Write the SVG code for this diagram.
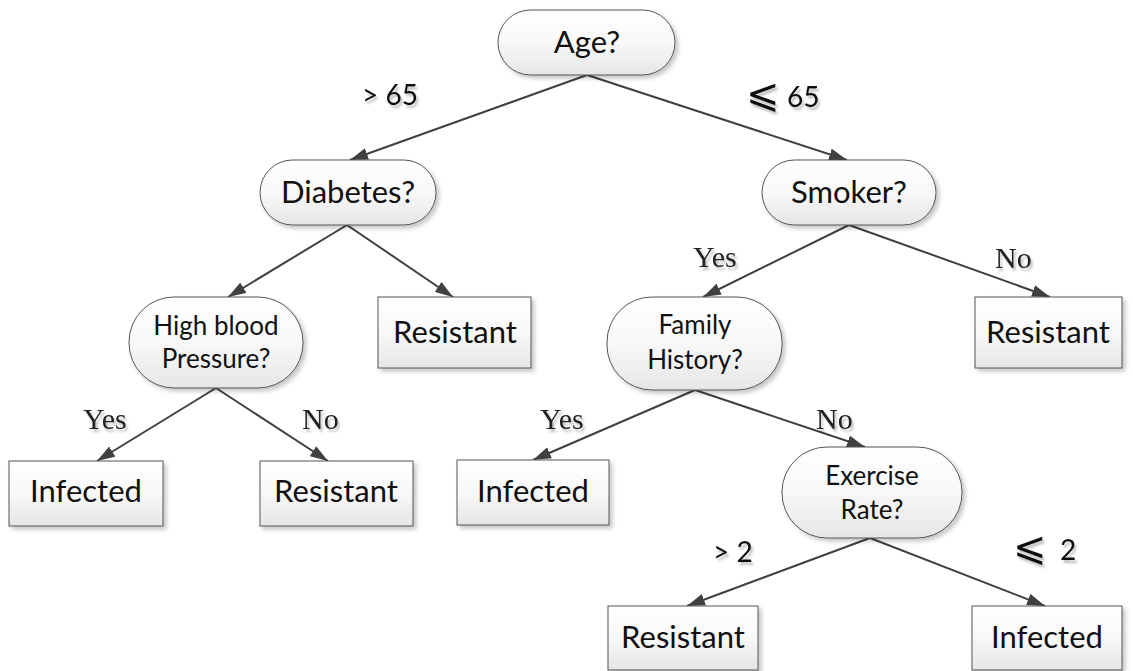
<svg xmlns="http://www.w3.org/2000/svg" width="1133" height="671" viewBox="0 0 1133 671">
  <defs>
    <linearGradient id="nodeFill" x1="0" y1="0" x2="0" y2="1">
      <stop offset="0" stop-color="#ffffff"/>
      <stop offset="0.5" stop-color="#f8f8f8"/>
      <stop offset="1" stop-color="#e6e6e6"/>
    </linearGradient>
    <filter id="nodeShadow" x="-10%" y="-10%" width="125%" height="130%">
      <feDropShadow dx="3" dy="3" stdDeviation="2" flood-color="#000" flood-opacity="0.22"/>
    </filter>
    <filter id="textShadow" x="-10%" y="-20%" width="130%" height="150%">
      <feDropShadow dx="2" dy="3" stdDeviation="0.8" flood-color="#000" flood-opacity="0.25"/>
    </filter>
    <marker id="arrow" viewBox="0 0 18 12" refX="18" refY="6" markerWidth="18" markerHeight="12" markerUnits="userSpaceOnUse" orient="auto">
      <path d="M0,0 L18,6 L0,12 Z" fill="#404040"/>
    </marker>
    <style>
      .node { fill: url(#nodeFill); stroke: #555; stroke-width: 1; filter: url(#nodeShadow); }
      .label { font-family: Lato, "Open Sans", sans-serif; fill: #111; text-anchor: middle; }
      .big { font-size: 31px; }
      .small { font-size: 26px; }
      .edge { stroke: #404040; stroke-width: 2; fill: none; marker-end: url(#arrow); }
      .cond { font-family: Lato, "Open Sans", sans-serif; font-size: 28px; fill: #111; filter: url(#textShadow); }
      .rel { font-family: "DejaVu Sans", sans-serif; font-size: 40px; font-weight: 200; }
      .yn { font-family: "Liberation Serif", serif; font-size: 30px; fill: #222; filter: url(#textShadow); }
    </style>
  </defs>

  <rect width="1133" height="671" fill="#ffffff"/>

  <!-- connectors -->
  <g id="connectors">
    <line class="edge" x1="587" y1="75" x2="350" y2="160"/>
    <line class="edge" x1="587" y1="75" x2="847" y2="160"/>
    <line class="edge" x1="347" y1="225" x2="228" y2="297"/>
    <line class="edge" x1="347" y1="225" x2="453" y2="297"/>
    <line class="edge" x1="849" y1="225" x2="703" y2="297"/>
    <line class="edge" x1="849" y1="225" x2="1050" y2="297"/>
    <line class="edge" x1="216" y1="388" x2="97" y2="461"/>
    <line class="edge" x1="216" y1="388" x2="328" y2="461"/>
    <line class="edge" x1="695" y1="390" x2="533" y2="460"/>
    <line class="edge" x1="695" y1="390" x2="865" y2="447"/>
    <line class="edge" x1="870" y1="538" x2="687" y2="606"/>
    <line class="edge" x1="870" y1="538" x2="1045" y2="606"/>
  </g>

  <!-- branch labels -->
  <g id="edge-labels">
    <text class="cond" x="362" y="105">&gt; 65</text>
    <text class="cond" y="107"><tspan class="rel" x="746">⩽</tspan><tspan x="787">65</tspan></text>
    <text class="yn" x="693" y="267">Yes</text>
    <text class="yn" x="995" y="268">No</text>
    <text class="yn" x="83" y="429">Yes</text>
    <text class="yn" x="302" y="429">No</text>
    <text class="yn" x="540" y="429">Yes</text>
    <text class="yn" x="816" y="429">No</text>
    <text class="cond" x="713" y="562">&gt; 2</text>
    <text class="cond" y="560"><tspan class="rel" x="1013">⩽</tspan><tspan x="1060">2</tspan></text>
  </g>

  <!-- decision nodes -->
  <g id="age">
    <rect class="node" x="498" y="10" width="177" height="65" rx="32.5"/>
    <text class="label big" x="587" y="53">Age?</text>
  </g>
  <g id="diabetes">
    <rect class="node" x="260" y="160" width="176" height="65" rx="32.5"/>
    <text class="label big" x="348" y="203">Diabetes?</text>
  </g>
  <g id="smoker">
    <rect class="node" x="762" y="160" width="174" height="65" rx="32.5"/>
    <text class="label big" x="849" y="203">Smoker?</text>
  </g>
  <g id="blood-pressure">
    <rect class="node" x="129" y="297" width="174" height="91" rx="45"/>
    <text class="label small" x="216" y="335">High blood</text>
    <text class="label small" x="216" y="368">Pressure?</text>
  </g>
  <g id="family-history">
    <rect class="node" x="607" y="297" width="175" height="93" rx="45"/>
    <text class="label small" x="695" y="334">Family</text>
    <text class="label small" x="695" y="369">History?</text>
  </g>
  <g id="exercise-rate">
    <rect class="node" x="782" y="447" width="180" height="91" rx="45"/>
    <text class="label small" x="872" y="485">Exercise</text>
    <text class="label small" x="872" y="519">Rate?</text>
  </g>

  <!-- outcome nodes -->
  <g id="resistant-diabetes">
    <rect class="node" x="378" y="297" width="153" height="71"/>
    <text class="label big" x="455" y="343">Resistant</text>
  </g>
  <g id="resistant-smoker">
    <rect class="node" x="975" y="297" width="147" height="71"/>
    <text class="label big" x="1048" y="343">Resistant</text>
  </g>
  <g id="infected-bp">
    <rect class="node" x="9" y="461" width="154" height="65"/>
    <text class="label big" x="86" y="502">Infected</text>
  </g>
  <g id="resistant-bp">
    <rect class="node" x="260" y="461" width="153" height="65"/>
    <text class="label big" x="336" y="502">Resistant</text>
  </g>
  <g id="infected-family">
    <rect class="node" x="457" y="460" width="152" height="65"/>
    <text class="label big" x="533" y="502">Infected</text>
  </g>
  <g id="resistant-exercise">
    <rect class="node" x="608" y="606" width="150" height="64"/>
    <text class="label big" x="683" y="648">Resistant</text>
  </g>
  <g id="infected-exercise">
    <rect class="node" x="972" y="606" width="150" height="64"/>
    <text class="label big" x="1047" y="648">Infected</text>
  </g>
</svg>
